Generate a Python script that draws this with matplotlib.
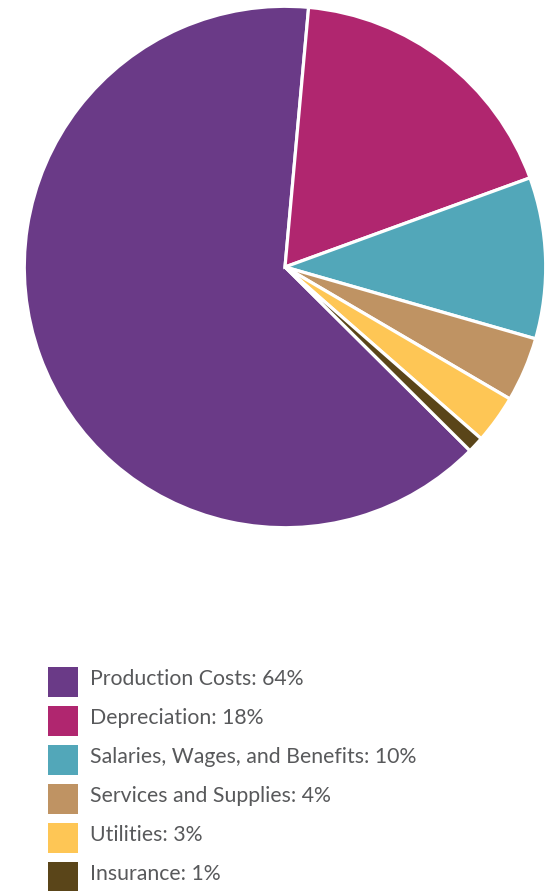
import matplotlib.pyplot as plt
from matplotlib.patches import Rectangle

# data
labels = ["Production Costs", "Depreciation", "Salaries, Wages, and Benefits",
          "Services and Supplies", "Utilities", "Insurance"]
shares = [64, 18, 10, 4, 3, 1]
colors = ["#6a3a87", "#b0266f", "#52a7b9", "#bf9363", "#fec655", "#5a4519"]

W, H = 558, 891
fig = plt.figure(figsize=(W / 100, H / 100), dpi=100)
ax = fig.add_axes([23 / W, 1 - 529 / H, 524 / W, 524 / H])

ax.pie(shares, colors=colors, startangle=-44.8, counterclock=False,
       wedgeprops=dict(edgecolor="white", linewidth=2.3))
ax.set_xlim(-1.005, 1.005)
ax.set_ylim(-1.005, 1.005)
ax.set_aspect("equal")
ax.axis("off")

# legend, drawn by hand in pixel positions
for i, (lab, val, col) in enumerate(zip(labels, shares, colors)):
    top = 667 + 39 * i
    fig.patches.append(Rectangle((48 / W, 1 - (top + 30) / H), 30 / W, 30 / H,
                                 facecolor=col, edgecolor="none",
                                 transform=fig.transFigure))
    fig.text(90 / W, 1 - (top + 18) / H, f"{lab}: {val}%", ha="left",
             va="baseline", fontsize=15.3, family="Lato", color="#58595b")

plt.savefig("out.png", dpi=100)
